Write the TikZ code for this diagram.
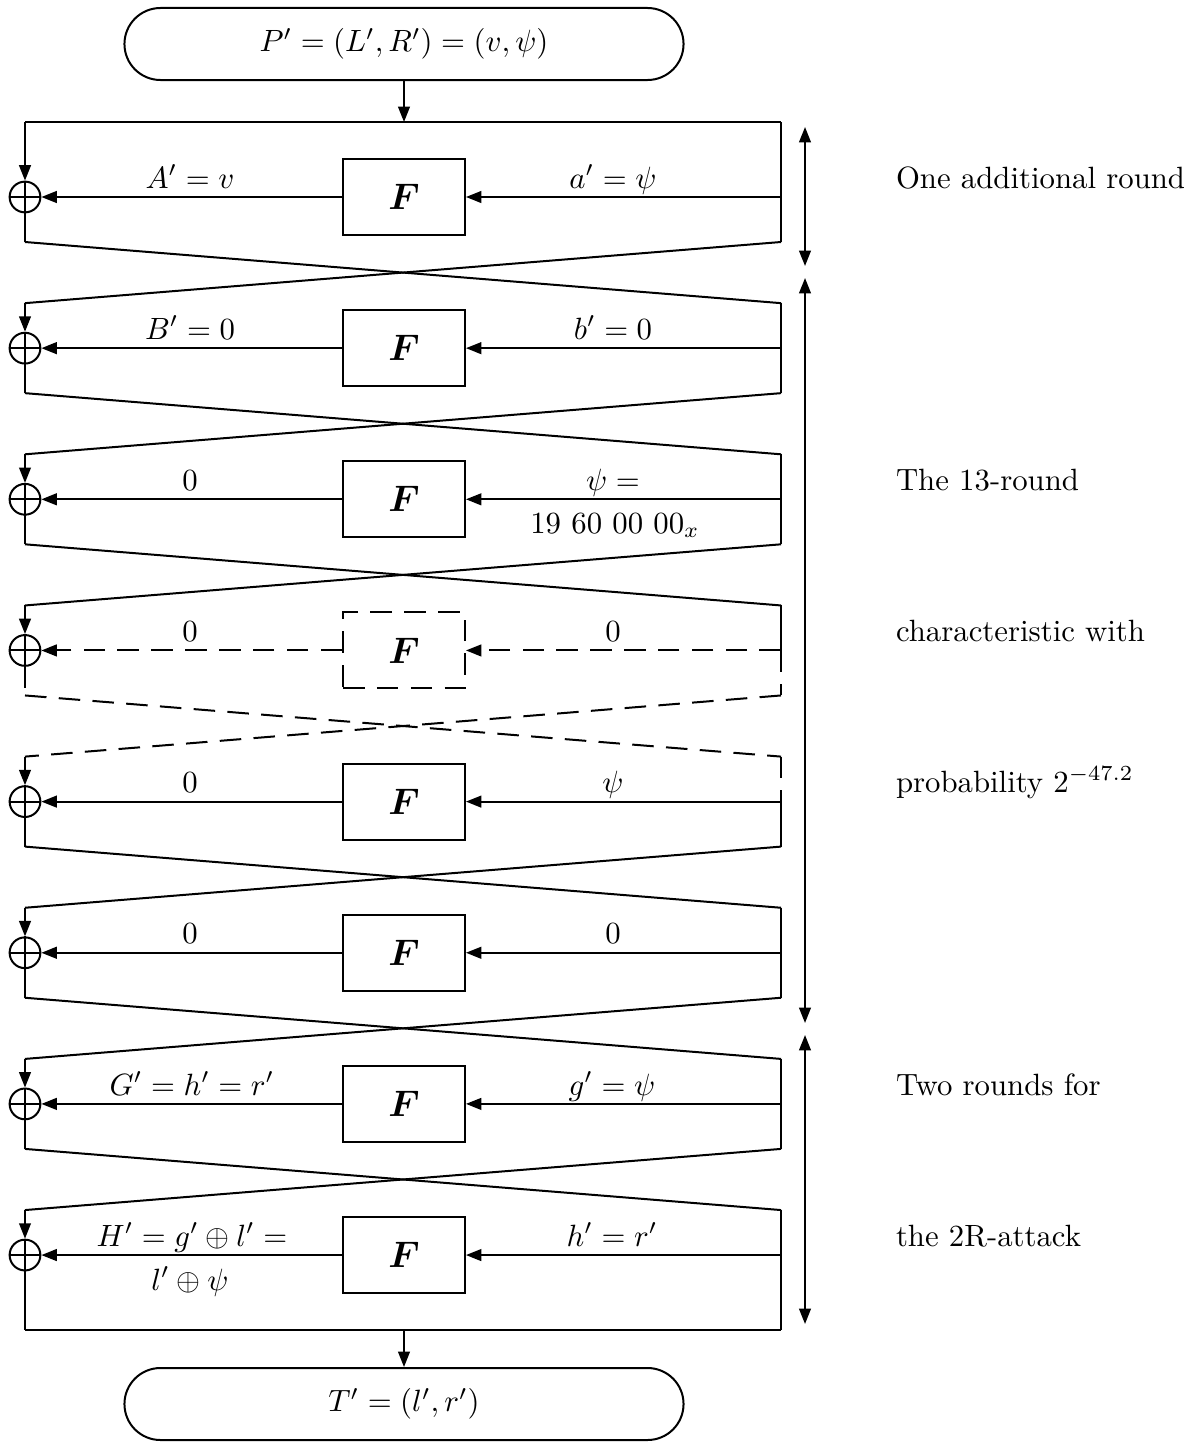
\documentclass[tikz,border=0pt]{standalone}
\usepackage{bm}
\usetikzlibrary{arrows.meta,shapes.misc}
\begin{document}
\begin{tikzpicture}[x=0.325pt,y=-0.325pt, line width=0.65pt,
  arr/.style={-{Triangle[length=5pt,width=3.8pt]}},
  dbl/.style={{Triangle[length=5pt,width=3.8pt]}-{Triangle[length=5pt,width=3.8pt]}},
  fbox/.style={draw, minimum width=39.6pt, minimum height=24.7pt, inner sep=0pt, font=\large},
  xorn/.style={draw, circle, minimum size=10pt, inner sep=0pt},
  term/.style={draw, rounded rectangle, minimum width=181.7pt, minimum height=23.4pt, inner sep=0pt},
  dsh/.style={dash pattern=on 7pt off 4pt},
  lab/.style={anchor=base, inner sep=0pt},
  side/.style={anchor=base west, inner sep=0pt}]
\useasboundingbox (0,0) rectangle (1195,1446);

% terminals
\node[term] (P) at (404,44) {$P'=(L',R')=(v,\psi)$};
\node[term] (T) at (404,1404) {$T'=(l',r')$};

% round skeleton
\foreach \k/\s/\u in {0/solid/solid,1/solid/solid,2/solid/solid,3/dsh/solid,4/solid/dsh,5/solid/solid,6/solid/solid,7/solid/solid}{
  \pgfmathsetmacro\yc{197+151.15*\k}
  \pgfmathsetmacro\yt{\k==0 ? 122 : \yc-45}
  \pgfmathsetmacro\yb{\k==7 ? 1330 : \yc+45}
  \coordinate (Lt\k) at (25,\yt);
  \coordinate (Rt\k) at (781,\yt);
  \coordinate (Lb\k) at (25,\yb);
  \coordinate (Rb\k) at (781,\yb);
  \coordinate (Rm\k) at (781,\yc);
  \node[xorn] (X\k) at (25,\yc) {};
  \draw (X\k.north) -- (X\k.south) (X\k.west) -- (X\k.east);
  \node[fbox,\s] (F\k) at (404,\yc) {$\bm{F}$};
  \draw[arr] (Lt\k) -- (X\k.north);
  \draw[\s] (X\k.south) -- (Lb\k);
  \draw[\u] (Rt\k) -- (Rm\k);
  \draw[\s] (Rm\k) -- (Rb\k);
  \draw[arr,\s] (Rm\k) -- (F\k.east);
  \draw[arr,\s] (F\k.west) -- (X\k.east);
}

% crossings
\foreach \k/\n/\s in {0/1/solid,1/2/solid,2/3/solid,3/4/dsh,4/5/solid,5/6/solid,6/7/solid}{
  \draw[\s] (Lb\k) -- (Rt\n);
  \draw[\s] (Rb\k) -- (Lt\n);
}

% top and bottom lines
\draw (Lt0) -- (Rt0);
\draw (Lb7) -- (Rb7);
\coordinate (Tin) at (404,122);
\coordinate (Tout) at (404,1330);
\draw[arr] (P.south) -- (Tin);
\draw[arr] (Tout) -- (T.north);

% range arrows
\coordinate (a1) at (805,127);
\coordinate (a2) at (805,266);
\coordinate (b1) at (805,278);
\coordinate (b2) at (805,1023);
\coordinate (c1) at (805,1035);
\coordinate (c2) at (805,1324);
\draw[dbl] (a1) -- (a2);
\draw[dbl] (b1) -- (b2);
\draw[dbl] (c1) -- (c2);

% labels
\node[lab] (l0) at (190,188) {$A'=v$};
\node[lab] (r0) at (613,188) {$a'=\psi$};
\node[lab] (l1) at (190,339) {$B'=0$};
\node[lab] (r1) at (613,339) {$b'=0$};
\node[lab] (l2) at (190,490) {$0$};
\node[lab] (r2) at (613,490) {$\psi =$};
\node[lab] (r2b) at (615,533) {$19\ 60\ 00\ 00_x$};
\node[lab] (l3) at (190,641) {$0$};
\node[lab] (r3) at (613,641) {$0$};
\node[lab] (l4) at (190,792) {$0$};
\node[lab] (r4) at (613,792) {$\psi$};
\node[lab] (l5) at (190,943) {$0$};
\node[lab] (r5) at (613,943) {$0$};
\node[lab] (l6) at (192,1095) {$G'=h'=r'$};
\node[lab] (r6) at (612,1095) {$g'=\psi$};
\node[lab] (l7) at (192,1246) {$H'=g'\oplus l'=$};
\node[lab] (l7b) at (190,1290) {$l'\oplus\psi$};
\node[lab] (r7) at (612,1246) {$h'=r'$};

% side texts
\node[side] (s0) at (895,188) {One additional round};
\node[side] (s1) at (895,490) {The 13-round};
\node[side] (s2) at (895,641) {characteristic with};
\node[side] (s3) at (895,792) {probability $2^{-47.2}$};
\node[side] (s4) at (895,1095) {Two rounds for};
\node[side] (s5) at (895,1246) {the 2R-attack};
\end{tikzpicture}
\end{document}
